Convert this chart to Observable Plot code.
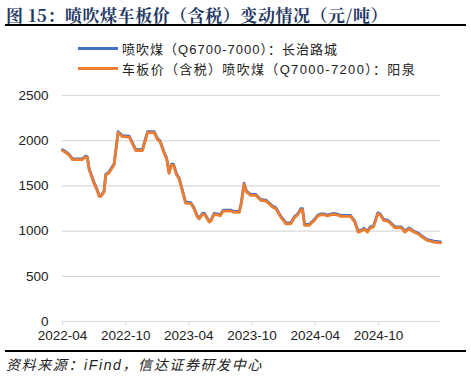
<!DOCTYPE html>
<html><head><meta charset="utf-8">
<script src="https://cdn.jsdelivr.net/npm/d3@7"></script>
<script src="https://cdn.jsdelivr.net/npm/@observablehq/plot@0.6"></script>
<style>
body{margin:0;background:#fff;width:471px;height:385px;position:relative;overflow:hidden;font-family:"Liberation Sans","Noto Sans CJK SC",sans-serif;}
#title{position:absolute;left:6px;top:2px;font-size:17px;font-weight:bold;color:#1F3763;white-space:nowrap;font-family:"Noto Serif CJK SC","Noto Sans CJK SC",serif;}
#rule1{position:absolute;left:5px;width:461px;top:24px;height:2px;background:#000;}
#rule2{position:absolute;left:5px;width:461px;top:350px;height:2px;background:#000;}
#source{position:absolute;left:6px;top:354px;font-size:14px;font-style:italic;color:#222;white-space:nowrap;font-family:"Liberation Sans","Noto Sans CJK SC",sans-serif;}
.legrow{position:absolute;left:78px;height:20px;display:flex;align-items:center;}
.sw{display:inline-block;width:40px;height:3px;margin-right:4px;}
.legtxt{font-size:13px;color:#222;white-space:nowrap;font-family:"Liberation Sans","Noto Sans CJK SC",sans-serif;}
#chart{position:absolute;left:0;top:85px;}
</style></head><body>
<div id="title">图 15：喷吹煤车板价（含税）变动情况（元/吨）</div>
<div id="rule1"></div>
<div class="legrow" style="top:38px"><span class="sw" style="background:#4472C4"></span><span class="legtxt" id="leg1">喷吹煤（Q6700-7000）：长治路城</span></div>
<div class="legrow" style="top:58px"><span class="sw" style="background:#ED7D31"></span><span class="legtxt" id="leg2">车板价（含税）喷吹煤（Q7000-7200）：阳泉</span></div>
<div id="chart"></div>
<div id="rule2"></div>
<div id="source">资料来源：iFind，信达证券研发中心</div>
<script>
const dates = ["2022-04-01","2022-04-10","2022-04-20","2022-04-30","2022-05-28","2022-06-07","2022-06-12","2022-06-17","2022-07-01","2022-07-11","2022-07-16","2022-07-21","2022-07-30","2022-08-04","2022-08-13","2022-08-24","2022-08-28","2022-09-09","2022-09-17","2022-09-21","2022-10-11","2022-10-25","2022-10-30","2022-11-18","2022-12-03","2022-12-22","2023-01-01","2023-01-08","2023-01-20","2023-01-27","2023-02-03","2023-02-10","2023-02-16","2023-02-25","2023-03-04","2023-03-23","2023-04-07","2023-04-16","2023-04-26","2023-05-01","2023-05-11","2023-05-17","2023-05-30","2023-06-04","2023-06-13","2023-06-25","2023-07-01","2023-07-10","2023-08-01","2023-08-10","2023-08-25","2023-08-31","2023-09-08","2023-09-15","2023-09-27","2023-10-12","2023-10-26","2023-11-10","2023-11-19","2023-11-29","2023-12-09","2023-12-23","2024-01-07","2024-01-21","2024-02-02","2024-02-09","2024-02-19","2024-02-24","2024-03-01","2024-03-14","2024-03-24","2024-03-28","2024-04-07","2024-04-17","2024-04-26","2024-05-06","2024-05-21","2024-06-02","2024-06-14","2024-07-12","2024-07-24","2024-08-03","2024-08-12","2024-08-20","2024-08-30","2024-09-06","2024-09-16","2024-09-29","2024-10-07","2024-10-15","2024-10-27","2024-11-05","2024-11-17","2024-12-06","2024-12-16","2024-12-28","2025-01-11","2025-01-26","2025-02-04","2025-02-19","2025-03-10","2025-03-29"];
const changzhi = [1900,1880,1850,1800,1800,1830,1820,1690,1540,1450,1390,1390,1440,1630,1650,1720,1740,2100,2070,2055,2050,1940,1900,1900,2100,2100,2020,2000,1870,1810,1650,1740,1740,1630,1590,1320,1315,1260,1165,1145,1195,1195,1110,1120,1195,1188,1180,1232,1232,1217,1217,1314,1530,1443,1406,1406,1351,1343,1314,1277,1258,1166,1091,1091,1166,1184,1247,1247,1073,1073,1110,1121,1173,1191,1191,1177,1195,1191,1173,1173,1110,999,1010,1032,999,1043,1054,1203,1184,1129,1121,1091,1047,1047,999,1036,999,973,943,906,888,880];
const yangquan = [1890,1870,1840,1790,1790,1820,1810,1680,1530,1440,1385,1385,1430,1620,1640,1710,1730,2090,2060,2045,2040,1930,1890,1890,2090,2090,2010,1990,1860,1800,1640,1730,1730,1620,1580,1310,1305,1250,1155,1135,1185,1185,1100,1110,1185,1178,1170,1222,1222,1207,1207,1304,1520,1433,1396,1396,1341,1333,1304,1267,1248,1156,1081,1081,1156,1174,1237,1237,1063,1063,1100,1111,1163,1181,1181,1167,1185,1181,1163,1163,1100,989,1000,1022,989,1033,1044,1193,1174,1119,1111,1081,1037,1037,989,1026,989,963,933,896,878,870];
const yTicks = [0,500,1000,1500,2000,2500];
const xTicks = ["2022-04-01","2022-10-01","2023-04-01","2023-10-01","2024-04-01","2024-10-01"];
const xTickLabels = ["2022-04","2022-10","2023-04","2023-10","2024-04","2024-10"];

// fit text runs to the reference widths via letter-spacing
function fit(id, right){
  const el = document.getElementById(id);
  const n = [...el.textContent].length;
  const r = el.getBoundingClientRect();
  const ls = (right - r.right) / n;
  el.style.letterSpacing = ls.toFixed(2) + "px";
}
fit("title", 388);
fit("leg1", 338);
fit("leg2", 416);
fit("source", 263);

const parse = d3.utcParse("%Y-%m-%d");
const rowsA = dates.map((d,i)=>({date:parse(d),v:changzhi[i]}));
const rowsB = dates.map((d,i)=>({date:parse(d),v:yangquan[i]}));
const tickDates = xTicks.map(parse);
const lab = new Map(tickDates.map((d,i)=>[+d,xTickLabels[i]]));

const chart = Plot.plot({
  width:471, height:265,
  marginLeft:62, marginRight:31, marginTop:10, marginBottom:29,
  style:{fontFamily:"'Liberation Sans', Arial, sans-serif", fontSize:"13.5px", color:"#222", background:"transparent"},
  x:{type:"utc", domain:[parse("2022-04-01"), parse("2025-03-29")], label:null},
  y:{domain:[0,2500], label:null},
  marks:[
    Plot.gridY(yTicks,{stroke:"#d9d9d9", strokeOpacity:1, strokeWidth:1.2}),
    Plot.ruleY([0],{stroke:"#d9d9d9", strokeWidth:1.2}),
    Plot.axisX({ticks:tickDates, tickFormat:d=>lab.get(+d), tickSize:4, tickPadding:5, stroke:"#d9d9d9", label:null}),
    Plot.axisY({ticks:yTicks, tickFormat:d=>String(d), tickSize:0, tickPadding:14, label:null}),
    Plot.line(rowsA,{x:"date",y:"v",stroke:"#4472C4",strokeWidth:2.8}),
    Plot.line(rowsB,{x:"date",y:"v",stroke:"#ED7D31",strokeWidth:2.8})
  ]
});
document.getElementById("chart").appendChild(chart);
</script>
</body></html>
